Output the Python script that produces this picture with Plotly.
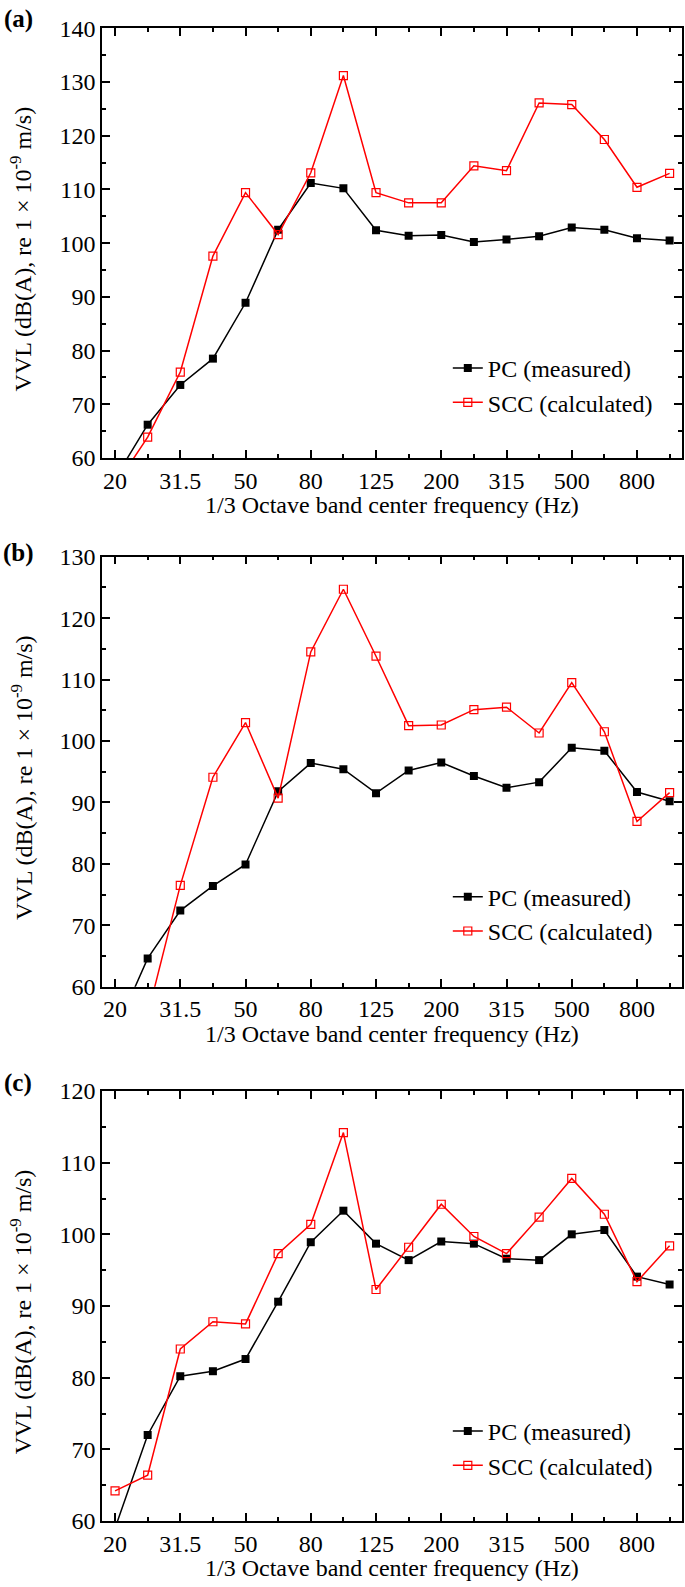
import plotly.graph_objects as go

# 1/3 octave band centre frequencies (Hz)
bands = ["20", "25", "31.5", "40", "50", "63", "80", "100", "125", "160",
         "200", "250", "315", "400", "500", "630", "800", "1000"]
tick_labels = ["20", "31.5", "50", "80", "125", "200", "315", "500", "800"]

# (a)
pc_a = [56.2, 66.2, 73.6, 78.5, 88.9, 102.5, 111.2, 110.2, 102.4, 101.4,
        101.5, 100.2, 100.7, 101.3, 102.9, 102.5, 100.9, 100.5]
scc_a = [54.7, 63.9, 76.0, 97.6, 109.4, 101.6, 113.1, 131.2, 109.4, 107.5,
         107.5, 114.4, 113.5, 126.1, 125.8, 119.3, 110.4, 113.0]

# (b)
pc_b = [52.6, 64.6, 72.4, 76.4, 79.9, 91.8, 96.4, 95.4, 91.5, 95.2,
        96.5, 94.3, 92.4, 93.3, 98.9, 98.4, 91.7, 90.2]
scc_b = [None, 55.4, 76.5, 94.1, 103.0, 90.7, 114.5, 124.7, 113.8, 102.5,
         102.6, 105.1, 105.5, 101.3, 109.5, 101.5, 86.9, 91.6]

# (c)
pc_c = [59.0, 72.0, 80.2, 80.9, 82.6, 90.6, 98.9, 103.3, 98.7, 96.4,
        99.0, 98.7, 96.6, 96.4, 100.0, 100.6, 94.1, 93.0]
scc_c = [64.2, 66.4, 84.0, 87.8, 87.5, 97.3, 101.4, 114.2, 92.3, 98.2,
         104.2, 99.7, 97.3, 102.4, 107.8, 102.8, 93.4, 98.4]

y_ranges = [(60, 140), (60, 130), (60, 120)]
panel_names = ["(a)", "(b)", "(c)"]

FONT = "Liberation Serif, Times New Roman, serif"
W, H = 685, 1587
L, R, T, B = 102, 684, 28, 1521


def px_x(p):
    return (p - L) / (R - L)


def px_y(p):
    return (B - p) / (B - T)


# pixel extents of the three panels (top, bottom)
panels = [(28.3, 458), (556.7, 986.7), (1091, 1521)]
label_y = [19, 553, 1083]

xs = list(range(len(bands)))
major = [i for i in xs if bands[i] in tick_labels]
minor = [i for i in xs if bands[i] not in tick_labels]

fig = go.Figure()
data = [(pc_a, scc_a), (pc_b, scc_b), (pc_c, scc_c)]
for k, (pc, scc) in enumerate(data):
    sfx = "" if k == 0 else str(k + 1)
    leg = "legend" + sfx
    fig.add_trace(go.Scatter(
        x=xs, y=pc, name="PC (measured)", mode="lines+markers",
        line=dict(color="black", width=1.5),
        marker=dict(symbol="square", size=8, color="black"),
        xaxis="x" + sfx, yaxis="y" + sfx, legend=leg,
    ))
    fig.add_trace(go.Scatter(
        x=xs, y=scc, name="SCC (calculated)", mode="lines+markers",
        line=dict(color="#ff0000", width=1.5),
        marker=dict(symbol="square-open", size=8, color="#ff0000",
                    line=dict(width=1.2)),
        xaxis="x" + sfx, yaxis="y" + sfx, legend=leg,
    ))

layout = dict(
    width=W, height=H,
    margin=dict(l=L, r=W - R, t=T, b=H - B),
    paper_bgcolor="white", plot_bgcolor="white",
    font=dict(family=FONT, size=24, color="black"),
    annotations=[],
)

for k in range(3):
    sfx = "" if k == 0 else str(k + 1)
    top, bot = panels[k]
    lo, hi = y_ranges[k]
    layout["xaxis" + sfx] = dict(
        domain=[0, 1], anchor="y" + sfx, range=[-0.4, 17.38],
        tickmode="array", tickvals=major, ticktext=tick_labels,
        ticks="inside", ticklen=8, tickwidth=1.5, tickcolor="black",
        minor=dict(tickmode="array", tickvals=minor, ticks="inside",
                   ticklen=4, tickwidth=1.5, tickcolor="black"),
        showline=True, linewidth=1.5, linecolor="black", mirror="ticks",
        showgrid=False, zeroline=False,
        tickfont=dict(family=FONT, size=24),
    )
    layout["yaxis" + sfx] = dict(
        domain=[px_y(bot), px_y(top)], anchor="x" + sfx, range=[lo, hi],
        dtick=10, tick0=0,
        ticks="inside", ticklen=8, tickwidth=1.5, tickcolor="black",
        minor=dict(dtick=5, tick0=0, ticks="inside", ticklen=4,
                   tickwidth=1.5, tickcolor="black"),
        showline=True, linewidth=1.5, linecolor="black", mirror="ticks",
        showgrid=False, zeroline=False,
        tickfont=dict(family=FONT, size=24),
    )
    layout["legend" + sfx] = dict(
        x=px_x(449), xanchor="left", y=px_y(bot - 112), yanchor="top",
        bgcolor="rgba(0,0,0,0)", borderwidth=0, tracegroupgap=0,
        font=dict(family=FONT, size=24),
    )
    layout["annotations"] += [
        dict(text="VVL (dB(A), re 1 \u00d7 10<sup>-9</sup> m/s)",
             xref="paper", yref="paper", x=px_x(21),
             y=px_y((top + bot) / 2 + 6),
             xanchor="center", yanchor="middle", textangle=-90,
             showarrow=False, font=dict(family=FONT, size=24)),
        dict(text="1/3 Octave band center frequency (Hz)",
             xref="paper", yref="paper", x=0.5, y=px_y(bot + 47),
             xanchor="center", yanchor="middle", showarrow=False,
             font=dict(family=FONT, size=24)),
        dict(text="<b>" + panel_names[k] + "</b>",
             xref="paper", yref="paper", x=px_x(18), y=px_y(label_y[k]),
             xanchor="center", yanchor="middle", showarrow=False,
             font=dict(family=FONT, size=25)),
    ]

fig.update_layout(**layout)
# drop the default 8px body margin so the figure sits at the page origin
fig.write_html("out.html", config={"displayModeBar": False},
               post_script="document.body.style.margin='0px';")
